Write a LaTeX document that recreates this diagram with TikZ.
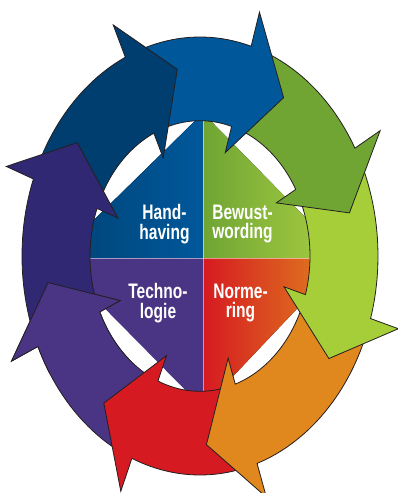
\documentclass[tikz,border=0pt]{standalone}
\usepackage{fontspec}
\newfontfamily\labelfont[FakeStretch=0.74]{Liberation Sans}
\usetikzlibrary{positioning}

\definecolor{indigoarrow}{HTML}{302873}
\definecolor{navyarrow}{HTML}{003E70}
\definecolor{bluearrow}{HTML}{00589B}
\definecolor{greenarrow}{HTML}{70A534}
\definecolor{limearrow}{HTML}{A6CE39}
\definecolor{orangearrow}{HTML}{E0871E}
\definecolor{redarrow}{HTML}{D61A21}
\definecolor{purplearrow}{HTML}{4A3484}
\definecolor{edgegray}{HTML}{231F20}

% one arrow of the ring: #1 colour, #2 angle of the tail, #3 angle where the head starts
\newcommand\ringarrow[3]{%
  \filldraw[arrowpart, fill=#1]
    plot[domain=#2:#3] ({200+178*cos(\x)}, {256+219*sin(\x)})
    -- ({200+207*cos(#3)}, {256+254.6*sin(#3)})
    -- ({200+153.5*cos(#3+16.3)}, {256+188.8*sin(#3+16.3)})
    -- ({200+87.7*cos(#3)}, {256+107.9*sin(#3)})
    -- plot[domain=#3:#2] ({200+110*cos(\x)}, {256+135.3*sin(\x)})
    -- cycle;}

\begin{document}
\begin{tikzpicture}[
    x=1pt, y=-1pt,
    arrowpart/.style={draw=edgegray, line width=0.8pt},
    quadtext/.style={text=white, align=center,
      font=\labelfont\bfseries\fontsize{21}{19.5}\selectfont},
    divider/.style={white, opacity=0.5, line width=0.4pt}
  ]
    \useasboundingbox (0,0) rectangle (398,493);

    \coordinate (mid) at (203,258);
    \coordinate (top) at (203,113);
    \coordinate (left) at (55,258);
    \coordinate (bottom) at (203,408);
    \coordinate (right) at (345,258);

    % the four quarters in the middle
    \fill[left color=bluearrow!75!black, right color=bluearrow] (mid) -- (left) -- (top) -- cycle;
    \fill[left color=greenarrow, right color=limearrow!95!white] (mid) -- (top) -- (right) -- cycle;
    \fill[purplearrow] (mid) -- (left) -- (bottom) -- cycle;
    \fill[left color=redarrow, right color=orangearrow] (mid) -- (bottom) -- (right) -- cycle;
    \draw[divider] (left) -- (right);
    \draw[divider] (top) -- (bottom);

    % ring of arrows, each head lying over the next tail
    \ringarrow{purplearrow}{115.5}{155.6}
    \ringarrow{redarrow}{74.3}{112.5}
    \ringarrow{orangearrow}{19.6}{71.3}
    \ringarrow{limearrow}{333.5}{376.6}
    \ringarrow{greenarrow}{289.7}{330.5}
    \ringarrow{bluearrow}{248.2}{286.7}
    \ringarrow{navyarrow}{203.6}{245.2}
    \ringarrow{indigoarrow}{158.6}{200.6}
    \begin{scope}
      \clip (0,268) rectangle (132,372);
      \ringarrow{purplearrow}{115.5}{155.6}
    \end{scope}

    \node[quadtext] (handhaving) at (164.5,224) {Hand-\\having};
    \node[quadtext] (bewustwording) at (242.5,224) {Bewust-\\wording};
    \node[quadtext] (technologie) at (158,303) {Techno-\\logie};
    \node[quadtext] (normering) at (240.5,303) {Norme-\\ring};
  \end{tikzpicture}
\end{document}
